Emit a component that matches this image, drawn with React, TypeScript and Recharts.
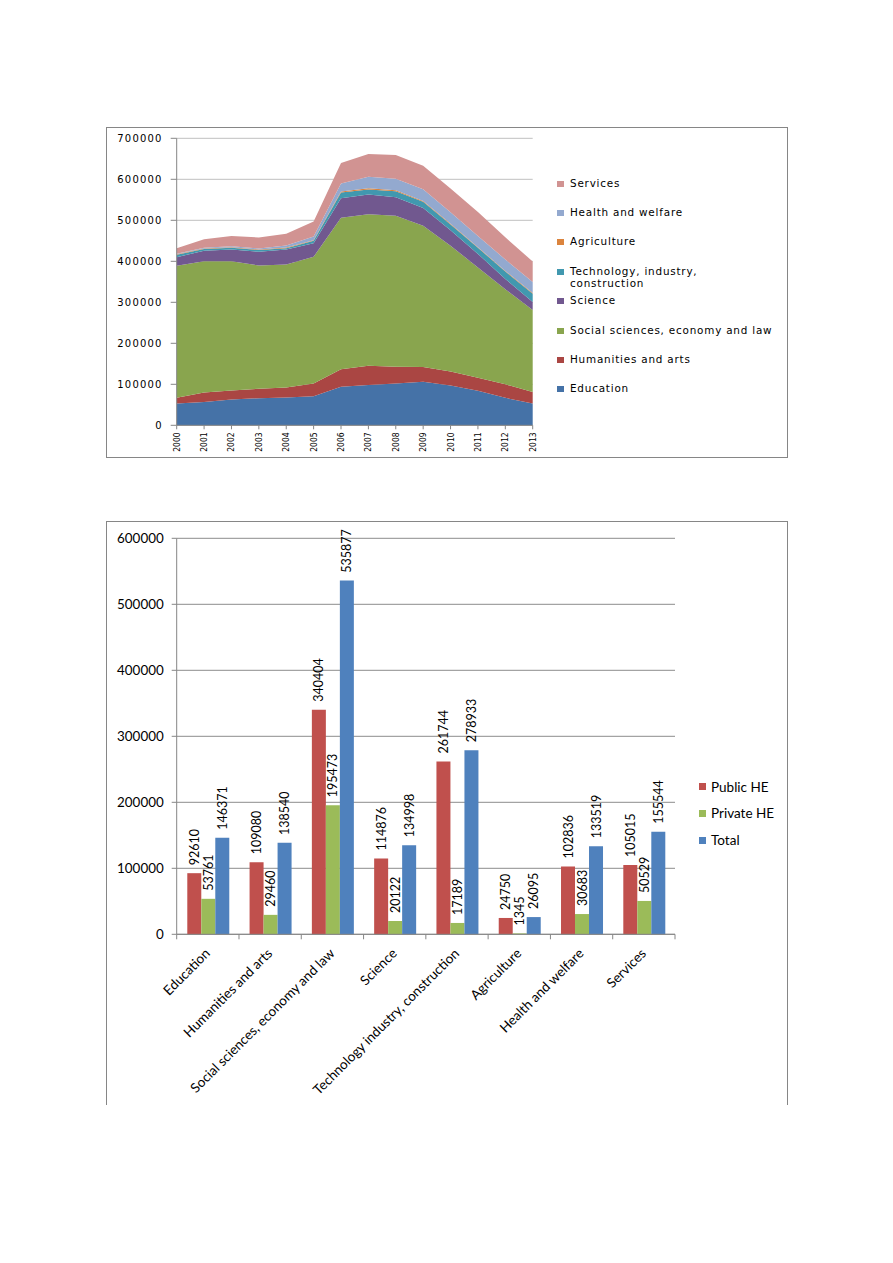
import { AreaChart, Area, BarChart, Bar, XAxis, YAxis, CartesianGrid, LabelList } from "recharts";

// ---- area chart data (students by field, 2000-2013) ----
const years = ["2000", "2001", "2002", "2003", "2004", "2005", "2006", "2007", "2008", "2009", "2010", "2011", "2012", "2013"];
const education = [53000, 57000, 63000, 66000, 68000, 71000, 94000, 98000, 102000, 106000, 97000, 84000, 67000, 53000];
const humanities = [14000, 23000, 22000, 23000, 24000, 31000, 43000, 47000, 41000, 36000, 34000, 32000, 33000, 28000];
const socialSciences = [322000, 320000, 315000, 301000, 300000, 309000, 369000, 370000, 368000, 345000, 307000, 269000, 232000, 200000];
const science = [21000, 26000, 29000, 33000, 37000, 33000, 48000, 48000, 45000, 43000, 38000, 33000, 25000, 20000];
const technology = [6000, 4000, 4000, 4500, 3000, 6000, 14000, 12000, 15000, 15000, 14000, 15000, 18000, 20000];
const agriculture = [1500, 1500, 1500, 1500, 1500, 1500, 2000, 3000, 2500, 2000, 1500, 1500, 1500, 1500];
const health = [1000, 1500, 2500, 2500, 5000, 9000, 20000, 28000, 28000, 29000, 28000, 27500, 28000, 27000];
const services = [13500, 21000, 25000, 26500, 28500, 36500, 50000, 56000, 58000, 57000, 58000, 58000, 54000, 50000];
const areaTicks = [0, 100000, 200000, 300000, 400000, 500000, 600000, 700000];

const fieldNames = [
  "Education",
  "Humanities and arts",
  "Social sciences, economy and law",
  "Science",
  "Technology, industry, construction",
  "Agriculture",
  "Health and welfare",
  "Services",
];
const fieldColors = ["#4572A7", "#AA4643", "#89A54E", "#71588F", "#4198AF", "#DB843D", "#93A9CF", "#D19392"];
const fieldSeries = [education, humanities, socialSciences, science, technology, agriculture, health, services];

const areaData = years.map((year, i) => {
  const row: Record<string, string | number> = { year };
  fieldNames.forEach((name, k) => {
    row[name] = fieldSeries[k][i];
  });
  return row;
});

// ---- bar chart data (graduates by sector) ----
const categories = [
  "Education",
  "Humanities and arts",
  "Social sciences, economy and law",
  "Science",
  "Technology industry, construction",
  "Agriculture",
  "Health and welfare",
  "Services",
];
const publicHE = [92610, 109080, 340404, 114876, 261744, 24750, 102836, 105015];
const privateHE = [53761, 29460, 195473, 20122, 17189, 1345, 30683, 50529];
const totalHE = [146371, 138540, 535877, 134998, 278933, 26095, 133519, 155544];
const barTicks = [0, 100000, 200000, 300000, 400000, 500000, 600000];

const barSeries = [
  { key: "Public HE", color: "#C0504D", values: publicHE },
  { key: "Private HE", color: "#9BBB59", values: privateHE },
  { key: "Total", color: "#4F81BD", values: totalHE },
];

const barData = categories.map((name, i) => {
  const row: Record<string, string | number> = { name };
  barSeries.forEach((s) => {
    row[s.key] = s.values[i];
  });
  return row;
});

const AXIS = "#868686";
const BAND = (675 - 176.7) / categories.length;

const YearTick = ({ x, y, payload }: any) => (
  <text
    x={x}
    y={y}
    transform={`rotate(-90 ${x} ${y})`}
    textAnchor="end"
    dominantBaseline="central"
    fontFamily="DejaVu Sans Condensed, DejaVu Sans"
    fontSize={8.5}
    fill="#000"
  >
    {payload.value}
  </text>
);

const CategoryTick = ({ x, y, payload, index }: any) => {
  const last = index === categories.length - 1;
  return (
    <g>
      <line x1={x - BAND / 2} x2={x - BAND / 2} y1={y} y2={y + 5} stroke={AXIS} />
      {last && <line x1={x + BAND / 2} x2={x + BAND / 2} y1={y} y2={y + 5} stroke={AXIS} />}
      <text
        x={x + 3}
        y={y + 20}
        transform={`rotate(-45 ${x + 3} ${y + 20})`}
        textAnchor="end"
        fontFamily="Lato"
        fontSize={13.5}
        fill="#000"
      >
        {payload.value}
      </text>
    </g>
  );
};

const ValueLabel = (props: any) => {
  const { x, y, width, value } = props;
  const cx = x + width / 2;
  const ty = y - 8;
  return (
    <text
      x={cx}
      y={ty}
      transform={`rotate(-90 ${cx} ${ty})`}
      textAnchor="start"
      dominantBaseline="central"
      fontFamily="Lato"
      fontSize={12.5}
      fill="#000"
    >
      {value}
    </text>
  );
};

export default function App() {
  const legendFields = fieldNames.map((n, i) => ({ n, c: fieldColors[i] })).reverse();
  const legendTops = [184, 213, 242, 272, 301, 330.5, 360, 389];

  return (
    <div style={{ position: "absolute", left: 0, top: 0, width: 893, height: 1263, background: "#fff" }}>
      {/* top chart frame */}
      <div
        style={{
          position: "absolute",
          left: 106,
          top: 127,
          width: 682,
          height: 331,
          border: `1px solid ${AXIS}`,
          boxSizing: "border-box",
        }}
      />
      <div style={{ position: "absolute", left: 106, top: 127 }}>
        <AreaChart width={682} height={331} data={areaData} margin={{ top: 11.3, right: 255.3, bottom: 0, left: 0 }}>
          <CartesianGrid horizontal vertical={false} stroke="#c0c0c0" />
          <XAxis
            dataKey="year"
            stroke={AXIS}
            tickSize={4}
            tickMargin={3}
            height={32.7}
            interval={0}
            tick={<YearTick />}
          />
          <YAxis
            width={70.7}
            domain={[0, 700000]}
            ticks={areaTicks}
            stroke={AXIS}
            tickSize={6}
            tickMargin={8}
            interval={0}
            tick={{ fontFamily: "DejaVu Sans", fontSize: 10, letterSpacing: 1.2, fill: "#000" }}
          />
          {fieldNames.map((name, i) => (
            <Area
              key={name}
              type="linear"
              dataKey={name}
              stackId="a"
              stroke="none"
              fill={fieldColors[i]}
              fillOpacity={1}
              dot={false}
              activeDot={false}
              isAnimationActive={false}
            />
          ))}
        </AreaChart>
      </div>
      {legendFields.map((f, i) => (
        <div
          key={f.n}
          style={{
            position: "absolute",
            left: 557,
            top: legendTops[i] - 7,
            display: "flex",
            alignItems: "flex-start",
            fontFamily: "DejaVu Sans",
            fontSize: 10.4,
            letterSpacing: 0.8,
            lineHeight: "12px",
            color: "#000",
          }}
        >
          <span style={{ width: 7, height: 6, background: f.c, marginTop: 4, marginRight: 6, flex: "none" }} />
          <span style={{ width: f.n.length > 32 ? 160 : 215 }}>{f.n}</span>
        </div>
      ))}

      {/* bottom chart frame (top, left, right edges) */}
      <div
        style={{
          position: "absolute",
          left: 106,
          top: 521,
          width: 682,
          height: 584,
          borderTop: `1px solid ${AXIS}`,
          borderLeft: `1px solid ${AXIS}`,
          borderRight: `1px solid ${AXIS}`,
          boxSizing: "border-box",
        }}
      />
      <div style={{ position: "absolute", left: 106, top: 521 }}>
        <BarChart
          width={682}
          height={584}
          data={barData}
          margin={{ top: 17.3, right: 113, bottom: 0, left: 0 }}
          barCategoryGap="17%"
          barGap={0}
        >
          <CartesianGrid horizontal vertical={false} stroke="#8c8c8c" />
          <XAxis
            dataKey="name"
            stroke={AXIS}
            tickLine={false}
            tickSize={0}
            tickMargin={0}
            height={170.7}
            interval={0}
            tick={<CategoryTick />}
          />
          <YAxis
            width={70.7}
            domain={[0, 600000]}
            ticks={barTicks}
            stroke={AXIS}
            tickSize={5}
            tickMargin={8}
            interval={0}
            tick={{ fontFamily: "Lato", fontSize: 13.4, fill: "#000" }}
          />
          {barSeries.map((s) => (
            <Bar key={s.key} dataKey={s.key} fill={s.color} isAnimationActive={false}>
              <LabelList dataKey={s.key} content={<ValueLabel />} />
            </Bar>
          ))}
        </BarChart>
      </div>
      {barSeries.map((s, i) => (
        <div
          key={s.key}
          style={{
            position: "absolute",
            left: 699,
            top: 786.7 + i * 26.7 - 9,
            height: 18,
            display: "flex",
            alignItems: "center",
            fontFamily: "Lato",
            fontSize: 13.5,
            color: "#000",
          }}
        >
          <span style={{ width: 7, height: 7, background: s.color, marginRight: 5 }} />
          <span>{s.key}</span>
        </div>
      ))}
    </div>
  );
}
